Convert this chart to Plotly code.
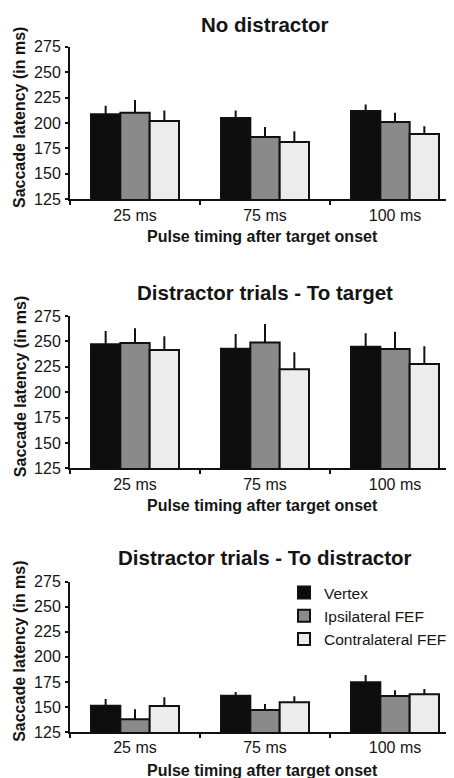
import plotly.graph_objects as go

categories = ["25 ms", "75 ms", "100 ms"]
series_names = ["Vertex", "Ipsilateral FEF", "Contralateral FEF"]
colors = ["#0d0d0d", "#8a8a8a", "#ececec"]

panel_titles = ["No distractor", "Distractor trials - To target", "Distractor trials - To distractor"]

# values[panel][series][category]
values = [
    [[208.5, 205.0, 211.8], [210.0, 186.2, 201.0], [202.0, 181.3, 189.2]],
    [[247.1, 242.8, 244.8], [248.4, 249.0, 242.5], [241.5, 222.5, 227.7]],
    [[151.3, 161.3, 174.6], [137.6, 147.0, 161.0], [151.0, 154.6, 162.6]],
]
errors = [
    [[8.5, 7.2, 6.5], [12.6, 9.8, 9.0], [10.4, 10.5, 7.5]],
    [[13.1, 14.5, 13.1], [14.5, 18.1, 17.1], [13.5, 16.7, 17.4]],
    [[6.7, 3.7, 7.3], [10.0, 6.0, 5.6], [8.6, 6.0, 5.4]],
]
y_ticks = [125, 150, 175, 200, 225, 250, 275]

OFF = 8  # default page body margin
W, H = 454 - OFF, 778 - OFF
FONT = "Liberation Sans, Arial, sans-serif"
L = 70 - OFF
PW = W - L

# panel page-pixel geometry (top of axis, bottom of axis, title y, x-title y)
panels_px = [(46.7, 199.3, 24, 237), (316, 468.3, 293, 505.7), (581.7, 732, 557, 770.7)]


def py(v):
    return 1 - (v - OFF) / H


def px(v):
    return (v - OFF - L) / PW


fig = go.Figure()
layout = dict(
    width=W, height=H,
    margin=dict(l=L, r=0, t=0, b=0),
    plot_bgcolor="white", paper_bgcolor="white",
    barmode="group", bargap=0.323, bargroupgap=0,
    font=dict(family=FONT, size=16, color="#151515"),
    showlegend=True,
    legend=dict(x=px(284), y=py(576), xanchor="left", yanchor="top",
                font=dict(size=15.5, family=FONT, color="#151515"),
                bgcolor="rgba(0,0,0,0)", tracegroupgap=0, itemwidth=30),
)
annotations = []
for p in range(3):
    xa = "x" if p == 0 else f"x{p+1}"
    ya = "y" if p == 0 else f"y{p+1}"
    for s in range(3):
        fig.add_trace(go.Bar(
            x=categories, y=values[p][s], name=series_names[s],
            marker=dict(color=colors[s], line=dict(color="#111", width=2)),
            error_y=dict(type="data", array=errors[p][s], arrayminus=[0, 0, 0],
                         symmetric=False, color="#111", thickness=2, width=0),
            xaxis=xa, yaxis=ya, showlegend=(p == 2), legendgroup=series_names[s],
        ))
    top, bot, ty, xty = panels_px[p]
    dom = [py(bot), py(top)]
    xkey = "xaxis" if p == 0 else f"xaxis{p+1}"
    ykey = "yaxis" if p == 0 else f"yaxis{p+1}"
    layout[xkey] = dict(
        domain=[0, 1], anchor=ya, type="category", range=[-0.5, -0.5 + PW / 130],
        showline=True, linecolor="#111", linewidth=2, ticks="outside", ticklen=4,
        tickwidth=2, tickcolor="#111", tickson="boundaries", showgrid=False,
        tickfont=dict(size=16), automargin=False, zeroline=False,
    )
    layout[ykey] = dict(
        domain=dom, anchor=xa, range=[125, 275], tickvals=y_ticks,
        showline=True, linecolor="#111", linewidth=2, ticks="outside", ticklen=3,
        tickwidth=2, tickcolor="#111", showgrid=False, zeroline=False,
        tickfont=dict(size=16), automargin=False, ticklabelstandoff=1,
    )
    annotations.append(dict(text=f"<b>{panel_titles[p]}</b>", xref="paper", yref="paper",
                            x=px(265), y=py(ty), xanchor="center", yanchor="middle",
                            showarrow=False, font=dict(size=20.5, family=FONT, color="#151515")))
    annotations.append(dict(text="<b>Pulse timing after target onset</b>", xref="paper", yref="paper",
                            x=px(262), y=py(xty), xanchor="center", yanchor="middle",
                            showarrow=False, font=dict(size=16, family=FONT, color="#151515")))
    annotations.append(dict(text="<b>Saccade latency (in ms)</b>", xref="paper", yref="paper",
                            x=px(20), y=py((top + bot) / 2 - 5), xanchor="center",
                            yanchor="middle", textangle=-90, showarrow=False,
                            font=dict(size=16, family=FONT, color="#151515")))
layout["annotations"] = annotations
fig.update_layout(**layout)
fig.write_html("out.html")
